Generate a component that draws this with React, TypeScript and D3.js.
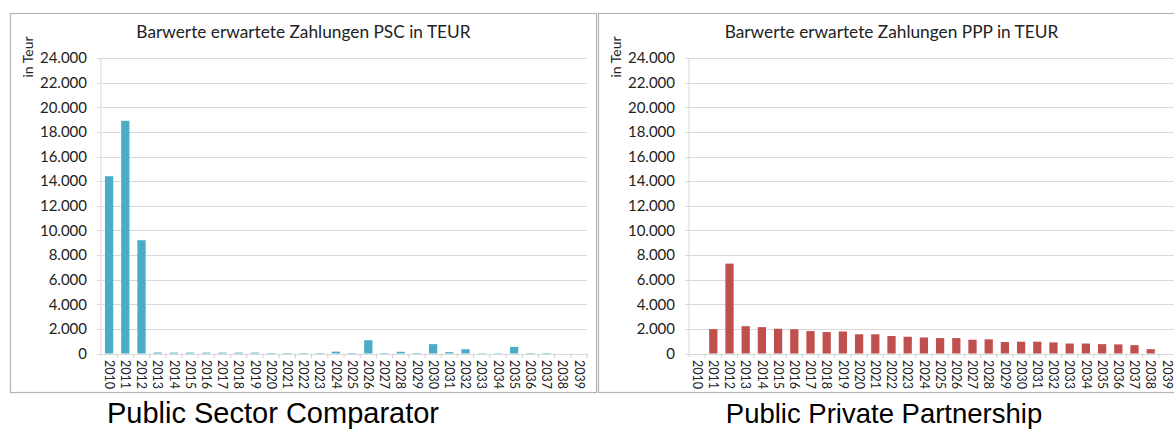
import React from "react";
import * as d3 from "d3";

const years = ["2010","2011","2012","2013","2014","2015","2016","2017","2018","2019","2020","2021","2022","2023","2024","2025","2026","2027","2028","2029","2030","2031","2032","2033","2034","2035","2036","2037","2038","2039"];
const pscValues = [14400, 18900, 9200, 80, 70, 70, 70, 70, 70, 70, 40, 40, 40, 40, 150, 40, 1080, 40, 140, 40, 760, 110, 350, 30, 30, 540, 40, 40, 0, 0];
const pppValues = [0, 1980, 7300, 2220, 2140, 2010, 1970, 1820, 1740, 1790, 1560, 1560, 1420, 1360, 1300, 1250, 1250, 1120, 1150, 930, 960, 960, 900, 810, 810, 760, 740, 680, 350, 0];
const yTicks = [0, 2000, 4000, 6000, 8000, 10000, 12000, 14000, 16000, 18000, 20000, 22000, 24000];
const titles = ["Barwerte erwartete Zahlungen PSC in TEUR", "Barwerte erwartete Zahlungen PPP in TEUR"];
const captions = ["Public Sector Comparator", "Public Private Partnership"];
const yLabel = "in Teur";

const FONT = "Lato, 'Open Sans', sans-serif";
const fmt = (v: number) => (v === 0 ? "0" : d3.format(",")(v).replace(/,/g, "."));

function Panel({ ox, title, values, color }: { ox: number; title: string; values: number[]; color: string }) {
  const x = d3.scaleBand<string>().domain(years).range([ox + 91, ox + 577]).paddingInner(0.49).paddingOuter(0.245);
  const y = d3.scaleLinear().domain([0, 24000]).range([353.5, 58]);
  const [x0, x1] = x.range();
  const step = x.step();
  return (
    <g>
      <rect x={ox + 0.5} y={13.5} width={586} height={379} fill="#fff" stroke="#b4b4b4" strokeWidth={1.2} />
      <text x={ox + 293.5} y={37.5} textAnchor="middle" fontFamily={FONT} fontSize={17.3} fill="#222">{title}</text>
      <text transform={`translate(${ox + 18},57) rotate(-90)`} textAnchor="middle" fontFamily={FONT} fontSize={14} fill="#222" dy="0.35em">{yLabel}</text>
      {yTicks.map((t) => (
        <g key={t}>
          <line x1={x0 - 4} x2={x1} y1={Math.round(y(t)) + 0.5} y2={Math.round(y(t)) + 0.5} stroke="#d9d9d9" strokeWidth={1} />
          <text x={x0 - 14} y={y(t)} dy="0.35em" textAnchor="end" fontFamily={FONT} fontSize={15} fill="#222">{fmt(t)}</text>
        </g>
      ))}
      <line x1={x0} x2={x0} y1={58} y2={357} stroke="#d9d9d9" />
      {years.map((yr, i) => (
        <line key={"t" + yr} x1={x0 + (i + 1) * step} x2={x0 + (i + 1) * step} y1={353.5} y2={358} stroke="#d0d0d0" />
      ))}
      {values.map((v, i) => (
        <rect key={"b" + i} x={x(years[i])} width={x.bandwidth()} y={y(v)} height={y(0) - y(v)} fill={color} />
      ))}
      {years.map((yr) => (
        <text key={"l" + yr} transform={`translate(${(x(yr) as number) + x.bandwidth() / 2},360) rotate(90)`} dy="0.35em" fontFamily={FONT} fontSize={12.5} fill="#222">{yr}</text>
      ))}
    </g>
  );
}

export default function App() {
  return (
    <svg width={1174} height={429} style={{ position: "absolute", left: 0, top: 0, background: "#fff" }}>
      <rect width={1174} height={429} fill="#fff" />
      <Panel ox={10} title={titles[0]} values={pscValues} color="#4BACC6" />
      <Panel ox={598} title={titles[1]} values={pppValues} color="#C0504D" />
      <text x={273} y={423} textAnchor="middle" fontFamily="'Liberation Sans', Arial, sans-serif" fontSize={29} fill="#000">{captions[0]}</text>
      <text x={884} y={423} textAnchor="middle" fontFamily="'Liberation Sans', Arial, sans-serif" fontSize={27.5} fill="#000">{captions[1]}</text>
    </svg>
  );
}
